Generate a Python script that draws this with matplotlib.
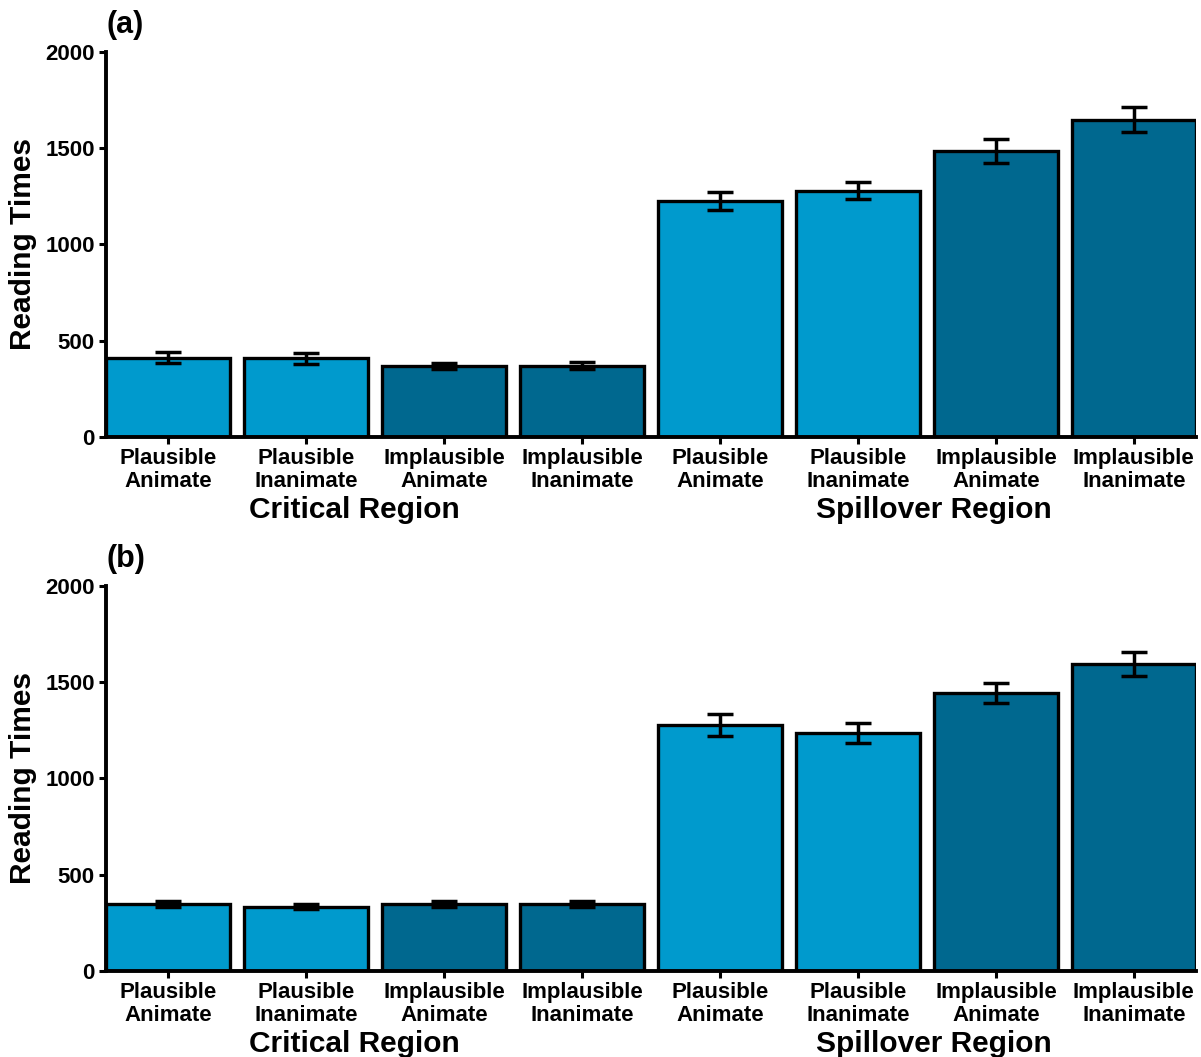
import numpy as np
import matplotlib.pyplot as plt

plt.rcParams['font.family'] = ['Liberation Sans', 'DejaVu Sans']
plt.rcParams['font.weight'] = 'bold'

# conditions, same order in both regions
conditions = ['Plausible\nAnimate', 'Plausible\nInanimate',
              'Implausible\nAnimate', 'Implausible\nInanimate']
regions = ['Critical Region', 'Spillover Region']

# mean reading times (critical 1-4, spillover 5-8) and standard errors
means_a = [411, 408, 369, 371, 1228, 1280, 1485, 1648]
se_a = [28, 28, 17, 17, 47, 45, 63, 66]
means_b = [348, 334, 350, 346, 1278, 1235, 1442, 1596]
se_b = [16, 14, 16, 16, 57, 52, 52, 62]

light = '#009ACD'
dark = '#00688F'
bar_colors = [light, light, dark, dark] * 2

fig = plt.figure(figsize=(12.01, 10.57), dpi=100)
ax_a = fig.add_axes([0.0883, 0.5866, 0.9075, 0.3642])
ax_b = fig.add_axes([0.0883, 0.0814, 0.9075, 0.3642])

x = np.arange(1, 9)

for ax, means, se, tag in [(ax_a, means_a, se_a, '(a)'), (ax_b, means_b, se_b, '(b)')]:
    ax.bar(x, means, width=0.9, color=bar_colors, edgecolor='black', linewidth=2.4, zorder=2)
    ax.errorbar(x, means, yerr=se, fmt='none', ecolor='black', elinewidth=2.5,
                capsize=9.5, capthick=2.5, zorder=3)
    ax.set_xlim(0.55, 8.45)
    ax.set_ylim(0, 2000)
    ax.set_yticks([0, 500, 1000, 1500, 2000])
    ax.set_xticks(x)
    ax.set_xticklabels(conditions * 2, fontsize=16, fontweight='bold', linespacing=1.15)
    ax.tick_params(axis='y', labelsize=16, width=2.2, length=5, pad=3)
    ax.tick_params(axis='x', width=2.2, length=5, pad=3)
    for side in ['top', 'right']:
        ax.spines[side].set_visible(False)
    for side in ['left', 'bottom']:
        ax.spines[side].set_linewidth(2.8)
    ax.set_ylabel('Reading Times', fontsize=21.5, fontweight='bold')
    ax.yaxis.set_label_coords(-0.063, 0.5)
    ax.text(0.0, 1.03, tag, transform=ax.transAxes, fontsize=22, fontweight='bold',
            ha='left', va='bottom')
    # region names under each group of four bars
    ax.text(2.35, -0.19, regions[0], transform=ax.get_xaxis_transform(), fontsize=21.5,
            fontweight='bold', ha='center', va='center', clip_on=False)
    ax.text(6.55, -0.19, regions[1], transform=ax.get_xaxis_transform(), fontsize=21.5,
            fontweight='bold', ha='center', va='center', clip_on=False)

fig.savefig('out.png', dpi=100)
